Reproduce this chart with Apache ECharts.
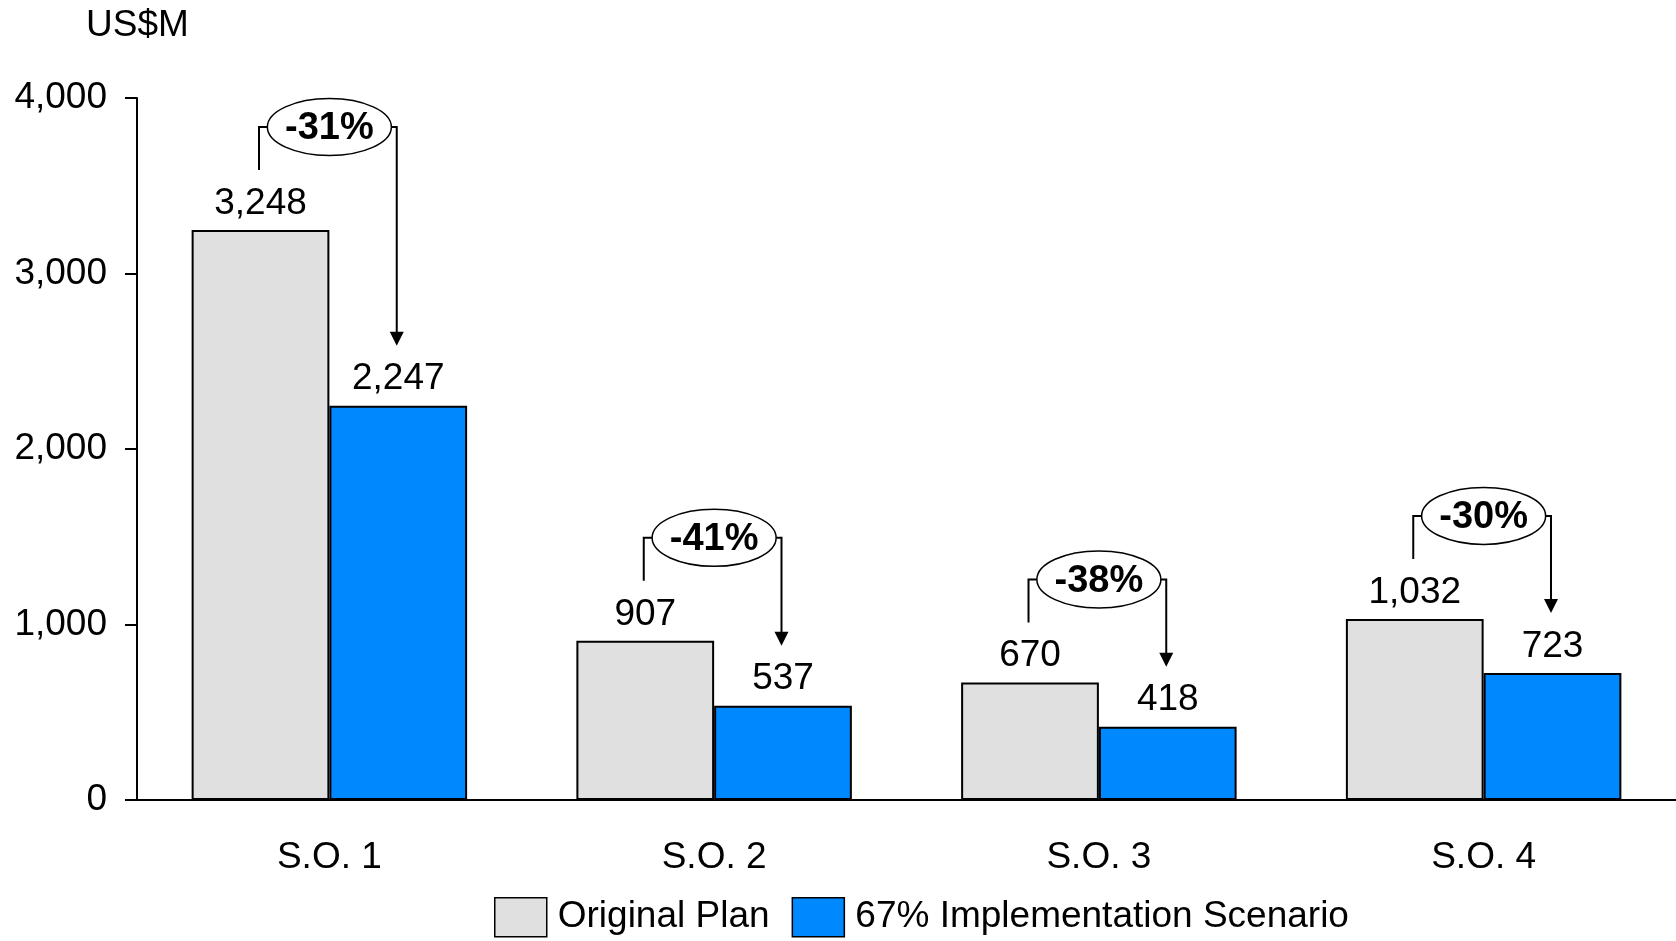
<!DOCTYPE html>
<html>
<head>
<meta charset="utf-8">
<title>Original Plan vs 67% Implementation Scenario</title>
<script src="https://cdn.jsdelivr.net/npm/echarts@6/dist/echarts.min.js"></script>
<style>
  html, body { margin: 0; padding: 0; background: #fff; }
  #chart { width: 1676px; height: 941px; }
</style>
</head>
<body>
<div id="chart"></div>
<script>
// ---- data ----
const categories = ['S.O. 1', 'S.O. 2', 'S.O. 3', 'S.O. 4'];
const originalPlan = [3248, 907, 670, 1032];
const scenario67 = [2247, 537, 418, 723];
const seriesNames = ['Original Plan', '67% Implementation Scenario'];
const yAxisMin = 0;
const yAxisMax = 4000;
const yAxisStep = 1000;
const unitLabel = 'US$M';

// ---- styling ----
const FONT = '"Liberation Sans", Arial, Helvetica, sans-serif';
const GRAY = '#E0E0E0';
const BLUE = '#0088FF';
const BAR_FRAC = 0.358;

const fmt = v => Number(v).toLocaleString('en-US');

// bracket + ellipse + arrow showing the change between the two bars of a category
function renderChange(params, api) {
  const i = api.value(0);
  const orig = api.value(1);
  const next = api.value(2);
  const band = api.size([1, 0])[0];
  const bw = band * BAR_FRAC;
  const top = api.coord([i, orig]);
  const cx = top[0];
  const gTop = top[1];
  const bTop = api.coord([i, next])[1];
  const gx = cx - bw / 2 - 1.5;
  const bx = cx + bw / 2 - 1.5;
  const y = gTop - 103;
  const rx = 62, ry = 28.5;
  const tip = bTop - 60;
  const head = 14;
  const pct = Math.round((next / orig - 1) * 100) + '%';
  const line = { stroke: '#000', lineWidth: 2, fill: null };
  return {
    type: 'group',
    children: [
      { type: 'polyline', shape: { points: [[gx, gTop - 60], [gx, y], [cx - rx, y]] }, style: line },
      { type: 'polyline', shape: { points: [[cx + rx, y], [bx, y], [bx, tip - head + 1]] }, style: line },
      { type: 'polygon', shape: { points: [[bx - 7, tip - head], [bx + 7, tip - head], [bx, tip]] }, style: { fill: '#000' } },
      { type: 'ellipse', shape: { cx: cx, cy: y, rx: rx, ry: ry }, style: { fill: '#fff', stroke: '#000', lineWidth: 1.5 } },
      { type: 'text', style: { text: pct, x: cx, y: y + 2, align: 'center', verticalAlign: 'middle',
          fontSize: 38, fontWeight: 'bold', fontFamily: FONT, fill: '#000' } }
    ]
  };
}

const chart = echarts.init(document.getElementById('chart'), null, { renderer: 'canvas' });

chart.setOption({
  animation: false,
  backgroundColor: '#fff',
  textStyle: { fontFamily: FONT },
  grid: { left: 137, right: 0, top: 98, bottom: 141, containLabel: false },
  graphic: [{
    type: 'text',
    left: 86,
    top: 7,
    style: { text: unitLabel, fontSize: 37, fontFamily: FONT, fill: '#000' }
  }],
  legend: {
    data: seriesNames,
    left: 494,
    top: 897,
    padding: 0,
    icon: 'rect',
    itemWidth: 52,
    itemHeight: 39,
    itemGap: 22,
    selectedMode: false,
    itemStyle: { borderColor: '#000', borderWidth: 1.5 },
    textStyle: { fontSize: 37, color: '#000', fontFamily: FONT, padding: [0, 0, 0, 6] }
  },
  xAxis: {
    type: 'category',
    data: categories,
    axisLine: { show: true, lineStyle: { color: '#000', width: 2 } },
    axisTick: { show: false },
    axisLabel: { fontSize: 37, color: '#000', margin: 39, fontFamily: FONT },
    splitLine: { show: false }
  },
  yAxis: {
    type: 'value',
    min: yAxisMin,
    max: yAxisMax,
    interval: yAxisStep,
    axisLine: { show: true, lineStyle: { color: '#000', width: 2 } },
    axisTick: { show: true, inside: false, length: 12, lineStyle: { color: '#000', width: 2 } },
    axisLabel: { fontSize: 37, color: '#000', margin: 30, fontFamily: FONT, formatter: fmt },
    splitLine: { show: false }
  },
  series: [
    {
      name: seriesNames[0],
      type: 'bar',
      data: originalPlan,
      barWidth: (BAR_FRAC * 100) + '%',
      barGap: '0%',
      itemStyle: { color: GRAY, borderColor: '#000', borderWidth: 2 },
      label: { show: true, position: 'top', distance: 8, fontSize: 37, color: '#000', fontFamily: FONT,
               formatter: p => fmt(p.value) }
    },
    {
      name: seriesNames[1],
      type: 'bar',
      data: scenario67,
      barWidth: (BAR_FRAC * 100) + '%',
      barGap: '0%',
      itemStyle: { color: BLUE, borderColor: '#000', borderWidth: 2 },
      label: { show: true, position: 'top', distance: 8, fontSize: 37, color: '#000', fontFamily: FONT,
               formatter: p => fmt(p.value) }
    },
    {
      name: 'change',
      type: 'custom',
      silent: true,
      z: 10,
      renderItem: renderChange,
      encode: { x: 0, y: 1 },
      data: categories.map((c, i) => [i, originalPlan[i], scenario67[i]])
    }
  ]
});
</script>
</body>
</html>
